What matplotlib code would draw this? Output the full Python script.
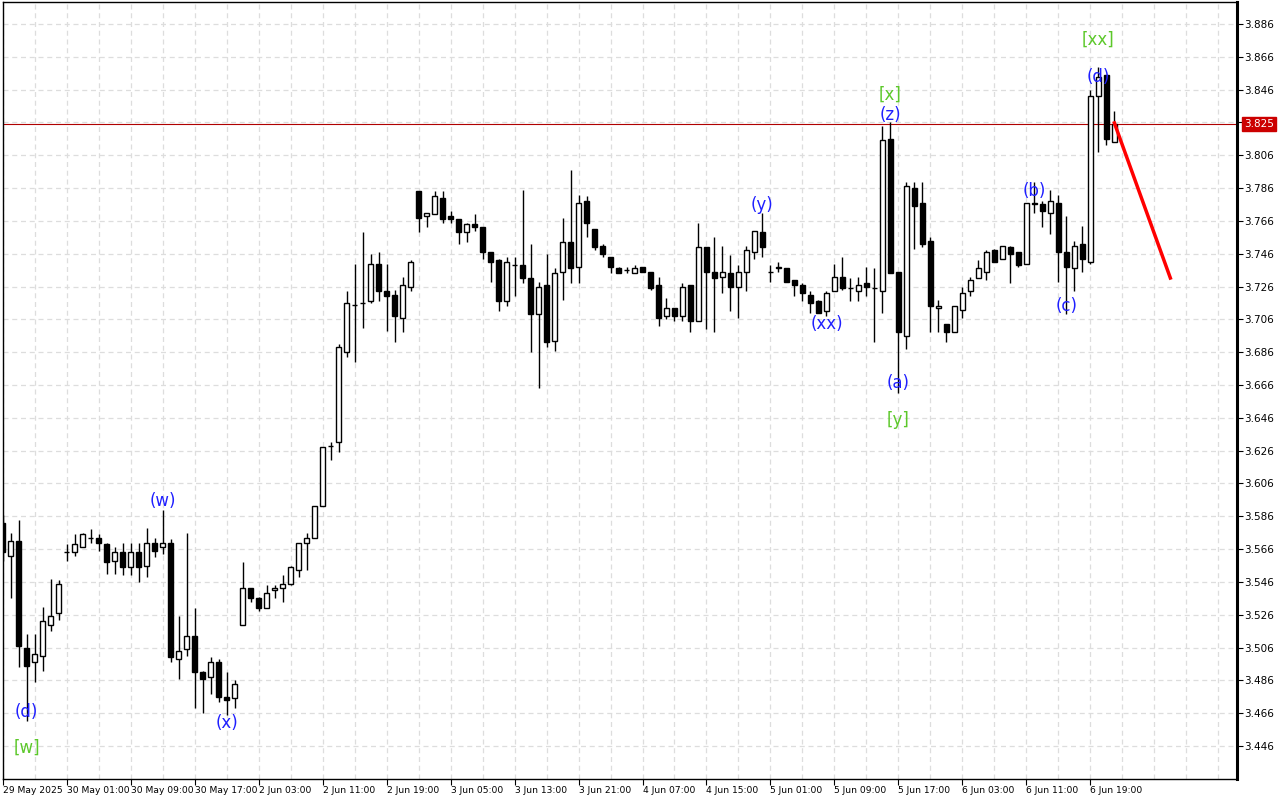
import matplotlib
matplotlib.use("Agg")
import matplotlib.pyplot as plt
import matplotlib.transforms as mtransforms

# hourly bars, 29 May 2025 17:00 -> 6 Jun 2025
opens = [3.582, 3.562, 3.571, 3.506, 3.497, 3.501, 3.520, 3.527, 3.564, 3.564,
         3.567, 3.573, 3.573, 3.569, 3.559, 3.564, 3.555, 3.564, 3.556, 3.570,
         3.567, 3.570, 3.499, 3.505, 3.513, 3.491, 3.488, 3.497, 3.476, 3.475,
         3.520, 3.542, 3.536, 3.530, 3.541, 3.542, 3.545, 3.553, 3.570, 3.573,
         3.592, 3.629, 3.631, 3.686, 3.715, 3.716, 3.717, 3.740, 3.723, 3.721,
         3.707, 3.726, 3.784, 3.769, 3.770, 3.780, 3.769, 3.767, 3.759, 3.764,
         3.762, 3.747, 3.742, 3.717, 3.739, 3.739, 3.731, 3.709, 3.727, 3.693,
         3.735, 3.753, 3.738, 3.778, 3.761, 3.751, 3.744, 3.737, 3.736, 3.734,
         3.738, 3.735, 3.727, 3.708, 3.713, 3.708, 3.727, 3.705, 3.750, 3.735,
         3.732, 3.734, 3.726, 3.735, 3.747, 3.759, 3.735, 3.737, 3.737, 3.730,
         3.727, 3.721, 3.717, 3.711, 3.723, 3.732, 3.725, 3.723, 3.728, 3.725,
         3.723, 3.816, 3.735, 3.696, 3.786, 3.777, 3.754, 3.713, 3.703, 3.698,
         3.712, 3.723, 3.731, 3.735, 3.748, 3.743, 3.750, 3.747, 3.740, 3.777,
         3.776, 3.771, 3.777, 3.747, 3.737, 3.752, 3.741, 3.842, 3.855, 3.814]
highs = [3.587, 3.576, 3.584, 3.514, 3.514, 3.531, 3.548, 3.547, 3.569, 3.575,
         3.576, 3.578, 3.575, 3.570, 3.567, 3.570, 3.570, 3.570, 3.579, 3.573,
         3.590, 3.572, 3.525, 3.576, 3.530, 3.492, 3.500, 3.499, 3.491, 3.486,
         3.558, 3.542, 3.537, 3.544, 3.544, 3.550, 3.556, 3.570, 3.576, 3.592,
         3.628, 3.631, 3.691, 3.723, 3.740, 3.759, 3.746, 3.747, 3.740, 3.724,
         3.732, 3.742, 3.784, 3.771, 3.784, 3.784, 3.772, 3.767, 3.765, 3.770,
         3.762, 3.747, 3.743, 3.744, 3.744, 3.785, 3.752, 3.729, 3.746, 3.737,
         3.768, 3.797, 3.782, 3.781, 3.761, 3.752, 3.744, 3.738, 3.738, 3.739,
         3.738, 3.735, 3.732, 3.719, 3.713, 3.728, 3.727, 3.765, 3.750, 3.756,
         3.751, 3.745, 3.739, 3.751, 3.760, 3.771, 3.739, 3.741, 3.737, 3.730,
         3.728, 3.723, 3.718, 3.723, 3.740, 3.744, 3.731, 3.732, 3.738, 3.737,
         3.824, 3.826, 3.735, 3.790, 3.790, 3.790, 3.756, 3.718, 3.703, 3.714,
         3.726, 3.732, 3.742, 3.748, 3.749, 3.751, 3.751, 3.747, 3.777, 3.790,
         3.778, 3.785, 3.782, 3.769, 3.754, 3.763, 3.846, 3.860, 3.855, 3.833]
lows = [3.559, 3.536, 3.494, 3.461, 3.485, 3.492, 3.516, 3.523, 3.559, 3.562,
        3.567, 3.570, 3.565, 3.551, 3.551, 3.550, 3.550, 3.546, 3.549, 3.561,
        3.563, 3.497, 3.487, 3.501, 3.469, 3.466, 3.478, 3.473, 3.465, 3.469,
        3.520, 3.534, 3.528, 3.530, 3.536, 3.534, 3.544, 3.549, 3.553, 3.573,
        3.592, 3.620, 3.625, 3.683, 3.680, 3.701, 3.716, 3.717, 3.699, 3.692,
        3.698, 3.723, 3.759, 3.762, 3.770, 3.765, 3.765, 3.752, 3.753, 3.760,
        3.743, 3.729, 3.711, 3.714, 3.720, 3.728, 3.686, 3.664, 3.689, 3.687,
        3.718, 3.728, 3.728, 3.756, 3.748, 3.744, 3.734, 3.734, 3.734, 3.734,
        3.735, 3.724, 3.702, 3.706, 3.705, 3.705, 3.698, 3.705, 3.700, 3.698,
        3.722, 3.711, 3.707, 3.723, 3.743, 3.744, 3.729, 3.735, 3.729, 3.720,
        3.717, 3.710, 3.710, 3.708, 3.723, 3.724, 3.717, 3.717, 3.720, 3.692,
        3.710, 3.734, 3.661, 3.688, 3.749, 3.750, 3.698, 3.698, 3.692, 3.698,
        3.707, 3.720, 3.731, 3.730, 3.741, 3.743, 3.728, 3.738, 3.740, 3.771,
        3.762, 3.758, 3.729, 3.709, 3.723, 3.735, 3.740, 3.808, 3.812, 3.814]
closes = [3.564, 3.571, 3.507, 3.495, 3.502, 3.522, 3.525, 3.545, 3.564, 3.569,
          3.575, 3.573, 3.570, 3.558, 3.564, 3.555, 3.564, 3.555, 3.570, 3.565,
          3.570, 3.500, 3.504, 3.513, 3.491, 3.487, 3.497, 3.476, 3.474, 3.484,
          3.542, 3.536, 3.530, 3.539, 3.542, 3.545, 3.555, 3.570, 3.573, 3.592,
          3.628, 3.629, 3.689, 3.716, 3.715, 3.716, 3.740, 3.723, 3.720, 3.708,
          3.727, 3.741, 3.768, 3.771, 3.781, 3.767, 3.767, 3.759, 3.764, 3.762,
          3.747, 3.741, 3.717, 3.741, 3.739, 3.731, 3.709, 3.726, 3.692, 3.734,
          3.753, 3.737, 3.777, 3.765, 3.750, 3.746, 3.738, 3.734, 3.736, 3.737,
          3.735, 3.725, 3.707, 3.713, 3.708, 3.726, 3.705, 3.750, 3.735, 3.731,
          3.735, 3.726, 3.735, 3.748, 3.760, 3.750, 3.735, 3.738, 3.729, 3.727,
          3.722, 3.716, 3.710, 3.722, 3.732, 3.725, 3.725, 3.727, 3.726, 3.725,
          3.815, 3.734, 3.698, 3.787, 3.775, 3.752, 3.714, 3.714, 3.698, 3.714,
          3.722, 3.730, 3.737, 3.747, 3.741, 3.751, 3.746, 3.739, 3.777, 3.776,
          3.772, 3.778, 3.747, 3.738, 3.751, 3.743, 3.842, 3.854, 3.816, 3.825]

date_labels = ["29 May 2025", "30 May 01:00", "30 May 09:00", "30 May 17:00",
               "2 Jun 03:00", "2 Jun 11:00", "2 Jun 19:00", "3 Jun 05:00",
               "3 Jun 13:00", "3 Jun 21:00", "4 Jun 07:00", "4 Jun 15:00",
               "5 Jun 01:00", "5 Jun 09:00", "5 Jun 17:00", "6 Jun 03:00",
               "6 Jun 11:00", "6 Jun 19:00"]

# wave marks: (text, bar, price, colour kind)
wave_labels = [("(d)", 3, 3.4667, "minor"), ("[w]", 3, 3.4448, "major"),
               ("(w)", 20, 3.5953, "minor"), ("(x)", 28, 3.4600, "minor"),
               ("(y)", 95, 3.7757, "minor"), ("(xx)", 103, 3.7032, "minor"),
               ("[x]", 111, 3.8427, "major"), ("(z)", 111, 3.8305, "minor"),
               ("(a)", 112, 3.6672, "minor"), ("[y]", 112, 3.6447, "major"),
               ("(b)", 129, 3.7842, "minor"), ("(c)", 133, 3.7141, "minor"),
               ("(d)", 137, 3.8537, "minor"), ("[xx]", 137, 3.8762, "major")]

forecast_x = [139, 146]
forecast_y = [3.8257, 3.7312]
last_price = 3.825

fig = plt.figure(figsize=(12.8, 8), dpi=100)
ax = fig.add_axes([0.0021, 0.02625, 0.9641, 0.97125])

n = len(opens)
xs = list(range(n))
for i in xs:
    o, h, l, c = opens[i], highs[i], lows[i], closes[i]
    ax.vlines(i, l, h, color="black", linewidth=1, zorder=3)
    fc = "white" if c > o else "black"
    ax.bar(i, abs(c - o), bottom=min(o, c), width=0.6, facecolor=fc,
           edgecolor="black", linewidth=1, zorder=4)

colours = {"minor": "#1f1fff", "major": "#5cc82a"}
for txt, bx, py, kind in wave_labels:
    ax.text(bx, py, txt, color=colours[kind], fontsize=12, ha="center",
            va="center", zorder=6)

ax.plot(forecast_x, forecast_y, color="#ff0000", linewidth=2.5, zorder=5)
ax.axhline(last_price, color="#b00000", linewidth=0.8, zorder=2)

ax.set_xlim(0, 154.3)
ax.set_ylim(3.4259, 3.8994)

yt = [round(3.446 + 0.02 * k, 3) for k in range(23)]
ax.yaxis.tick_right()
ax.set_yticks(yt)
ax.set_yticklabels([f"{v:.3f}" for v in yt])
ax.set_xticks(range(0, 8 * len(date_labels), 8))
ax.set_xticklabels(date_labels, ha="left")
ax.set_xticks(range(0, 155, 4), minor=True)
ax.tick_params(axis="both", which="major", labelsize=7.5, length=4,
               width=0.8, pad=1, colors="black")
ax.tick_params(axis="x", which="major", labelsize=6.6)
ax.tick_params(axis="x", which="minor", length=0)
ax.grid(True, which="both", color="#dddddd", linestyle=(0, (4, 3)), linewidth=0.9)
ax.set_axisbelow(True)

for s in ax.spines.values():
    s.set_linewidth(1)
ax.spines["right"].set_linewidth(2.2)

trans = mtransforms.blended_transform_factory(ax.transAxes, ax.transData)
ax.text(1.006, last_price, f"{last_price:.3f}", transform=trans, color="white",
        fontsize=7.5, va="center", ha="left",
        bbox=dict(boxstyle="square,pad=0.2", facecolor="#cc0000",
                  edgecolor="#cc0000"))

fig.savefig("out.png", dpi=100)
